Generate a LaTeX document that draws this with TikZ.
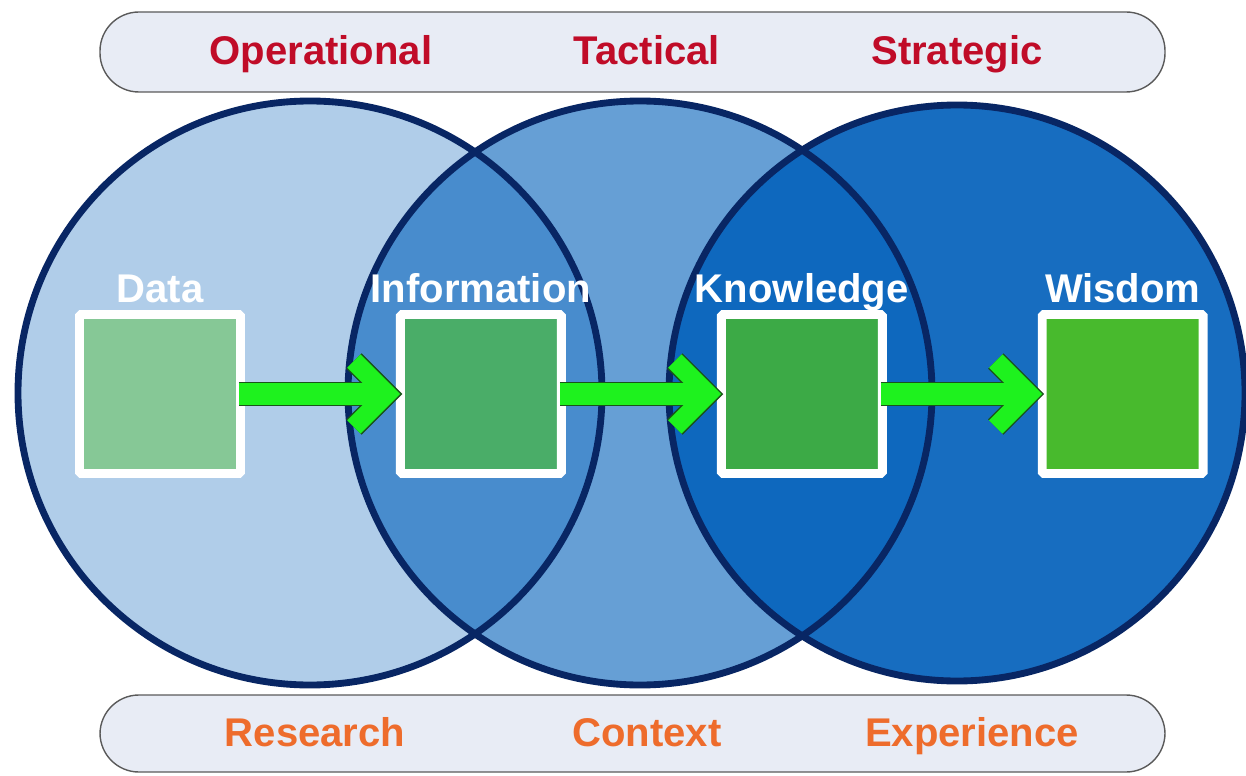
\documentclass[tikz,border=0pt]{standalone}
\usepackage{fontspec}
\setmainfont{Liberation Sans}
\usepackage{tikz}
\usetikzlibrary{positioning}
\usetikzlibrary{calc}
\definecolor{navy}{RGB}{8,38,100}
\definecolor{circblue}{RGB}{8,100,188}
\definecolor{barfill}{RGB}{232,236,245}
\definecolor{bargray}{RGB}{90,90,90}
\definecolor{topred}{RGB}{192,12,40}
\definecolor{botorange}{RGB}{238,108,44}
\definecolor{arrowgreen}{RGB}{30,242,30}
\definecolor{arrowdark}{RGB}{25,85,25}
\definecolor{dgreen}{RGB}{134,200,150}
\definecolor{igreen}{RGB}{74,173,104}
\definecolor{kgreen}{RGB}{60,170,70}
\definecolor{wgreen}{RGB}{72,186,45}

\begin{document}
\begin{tikzpicture}[
            x = 0.02cm, y = 0.02cm, % one unit is one pixel
            node distance = 3.02cm, % gap between boxes
            label distance = 0.14cm,
            circ/.style = {draw = navy, line width = 3.9pt},
            bar/.style = {draw = bargray, line width = 0.8pt, fill = barfill, rounded corners = 0.78cm},
            box/.style = {draw = white, line width = 5.1pt, minimum width = 3.22cm, minimum height = 3.18cm, rounded corners = 1pt, inner sep = 0pt},
            lab/.style = {text = white, inner sep = 0pt, text depth = 0pt, font = \fontsize{22.8}{27}\selectfont\bfseries},
            toplab/.style = {anchor = base, inner sep = 0pt, text = topred, font = \fontsize{22.8}{27}\selectfont\bfseries},
            botlab/.style = {anchor = base, inner sep = 0pt, text = botorange, font = \fontsize{22.8}{27}\selectfont\bfseries},
            shaftout/.style = {draw = arrowdark, line width = 14.2pt},
            shaft/.style = {draw = arrowgreen, line width = 12.5pt},
            chevout/.style = {draw = arrowdark, line width = 12.4pt, line join = miter},
            chev/.style = {draw = arrowgreen, line width = 10.7pt, line join = miter}
            ]

        \useasboundingbox (0,0) rectangle (1246,775);

        % bars
        \draw[bar] (100,683) rectangle (1165,763);
        \draw[bar] (100,3) rectangle (1165,80);

        \node[toplab] (OP) at (321,710) {Operational};
        \node[toplab] (TA) at (647,710) {Tactical};
        \node[toplab] (ST) at (957,710) {Strategic};

        \node[botlab] (RE) at (315,29) {Research};
        \node[botlab] (CO) at (647,29) {Context};
        \node[botlab] (EX) at (972,29) {Experience};

        % circles
        \fill[circblue, fill opacity = 0.32] (310,382) circle [radius = 292];
        \fill[circblue, fill opacity = 0.62] (640,382) circle [radius = 292];
        \fill[circblue, fill opacity = 0.94] (957,382) circle [radius = 288];
        \draw[circ] (310,382) circle [radius = 292];
        \draw[circ] (640,382) circle [radius = 292];
        \draw[circ] (957,382) circle [radius = 288];

        % boxes
        \node[box, fill = dgreen, label = {[lab]above:Data}] (D) at (160,381) {};
        \node[box, fill = igreen, label = {[lab]above:Information}] (I) [right = of D] {};
        \node[box, fill = kgreen, label = {[lab]above:Knowledge}] (K) [right = of I] {};
        \node[box, fill = wgreen, label = {[lab]above:Wisdom}] (W) [right = of K] {};

        % arrows
        \foreach \a/\b in {D/I, I/K, K/W} {
            \draw[shaftout] ($(\a.east)+(-6,0)$) -- ($(\b.west)+(-16,0)$);
            \draw[chevout] ($(\b.west)+(-42,33)$) -- ($(\b.west)+(-9,0)$) -- ($(\b.west)+(-42,-33)$);
            \draw[shaft] ($(\a.east)+(-6,0)$) -- ($(\b.west)+(-16,0)$);
            \draw[chev] ($(\b.west)+(-42,33)$) -- ($(\b.west)+(-9,0)$) -- ($(\b.west)+(-42,-33)$);
        }

  \end{tikzpicture}
\end{document}
